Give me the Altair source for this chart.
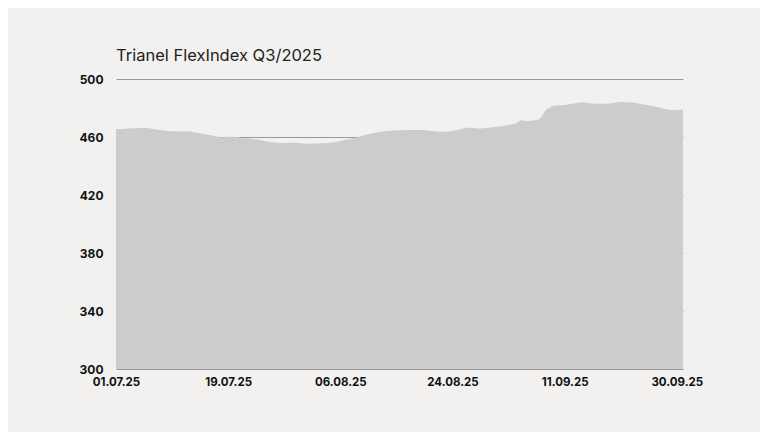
import altair as alt
import pandas as pd

# Daily index values, 01.07.2025 .. 30.09.2025 (day index 0..91)
day_index = list(range(92))
values = [
    465.5, 465.6, 465.8, 466.0, 466.2, 466.2, 465.5, 464.8, 464.3, 464.0,
    463.8, 463.9, 463.8, 463.0, 462.2, 461.3, 460.5, 459.7, 460.2, 460.1,
    459.5, 459.2, 458.6, 458.1, 457.0, 456.4, 456.0, 455.9, 456.1, 455.9,
    455.6, 455.4, 455.5, 455.7, 455.9, 456.3, 457.2, 458.2, 459.1, 460.0,
    461.4, 462.4, 463.3, 463.9, 464.3, 464.6, 464.7, 464.8, 464.9, 464.8,
    464.5, 464.0, 463.7, 463.8, 464.2, 465.0, 466.3, 466.3, 465.8, 466.0,
    466.5, 467.0, 467.5, 468.3, 469.2, 471.5, 471.0, 471.4, 472.3, 478.6,
    481.4, 481.8, 482.0, 482.7, 483.5, 483.9, 483.2, 483.0, 483.0, 483.0,
    483.7, 484.1, 484.0, 483.8, 483.0, 482.2, 481.6, 480.5, 479.4, 478.6,
    478.7, 478.9,
]

x_tick_positions = [0, 18, 36, 54, 72, 90]
x_tick_labels = ["01.07.25", "19.07.25", "06.08.25", "24.08.25", "11.09.25", "30.09.25"]
y_ticks = [300, 340, 380, 420, 460, 500]

df = pd.DataFrame({"d": day_index, "v": values})

label_expr = "{" + ",".join(f"'{p}':'{l}'" for p, l in zip(x_tick_positions, x_tick_labels)) + "}[datum.value]"

chart = alt.Chart(df).mark_area(color="#cccccc", opacity=1).encode(
    x=alt.X("d:Q", scale=alt.Scale(domain=[0, 91], nice=False),
            axis=alt.Axis(values=x_tick_positions, labelExpr=label_expr, title=None,
                          grid=False, ticks=False, domain=False, labelPadding=7,
                          labelFlush=False,
                          labelFont="Inter", labelFontWeight="bold", labelFontSize=11.5,
                          labelColor="#111111")),
    y=alt.Y("v:Q", scale=alt.Scale(domain=[300, 500], nice=False, zero=False),
            axis=alt.Axis(values=y_ticks, title=None, grid=True, gridColor="#999999",
                          gridWidth=1, ticks=False, domain=False, labelPadding=13,
                          labelFont="Inter", labelFontWeight="bold", labelFontSize=12,
                          labelColor="#111111")),
    y2=alt.datum(300),
).properties(
    width=567,
    height=290,
    autosize="none",
    padding={"left": 108, "top": 71, "right": 77, "bottom": 63},
    title=alt.TitleParams("Trianel FlexIndex Q3/2025", anchor="start", frame="group",
                          font="Inter", fontSize=16.5, fontWeight="normal", color="#222222",
                          baseline="alphabetic", offset=17, dy=21),
).configure(background="#f2f1ef").configure_view(stroke=None)

chart.save("out.html", embed_options={"renderer": "svg", "actions": False})
